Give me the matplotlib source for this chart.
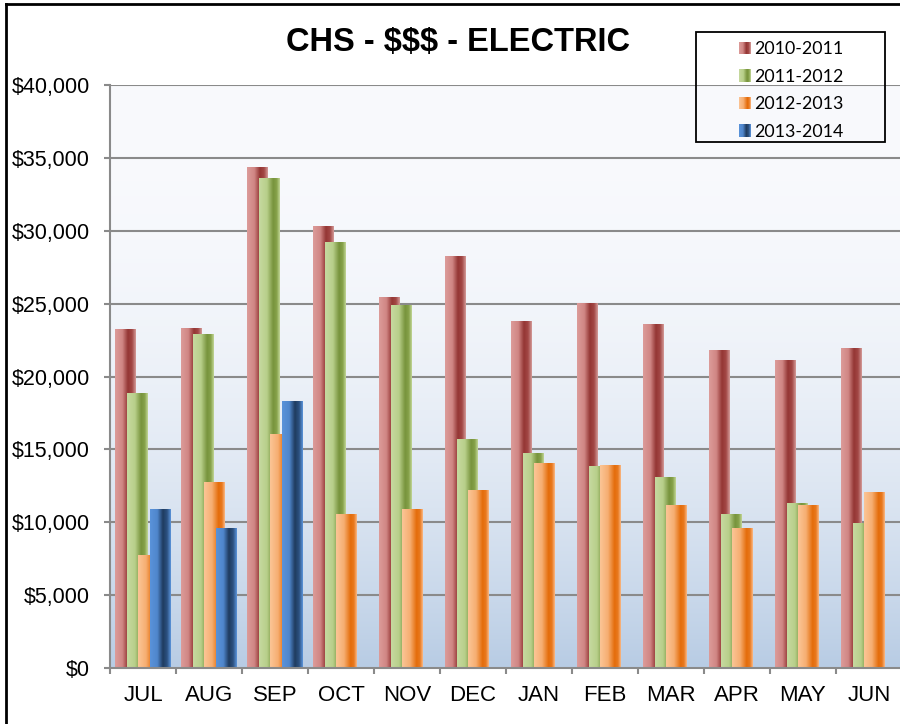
import numpy as np
import matplotlib
matplotlib.use("Agg")
import matplotlib.pyplot as plt
from matplotlib.colors import to_rgb
from matplotlib.patches import Rectangle
from matplotlib.lines import Line2D
from matplotlib.legend_handler import HandlerBase

# ---------------- data ----------------
months = ["JUL", "AUG", "SEP", "OCT", "NOV", "DEC", "JAN", "FEB", "MAR", "APR", "MAY", "JUN"]
series_names = ["2010-2011", "2011-2012", "2012-2013", "2013-2014"]
fy_2010_2011 = [23200, 23300, 34350, 30300, 25450, 28200, 23800, 25000, 23600, 21750, 21100, 21900]
fy_2011_2012 = [18850, 22900, 33600, 29200, 24900, 15700, 14750, 13850, 13100, 10550, 11300, 9900]
fy_2012_2013 = [7750, 12750, 16050, 10550, 10850, 12200, 14000, 13900, 11150, 9550, 11150, 12050]
fy_2013_2014 = [10850, 9600, 18300, None, None, None, None, None, None, None, None, None]
yticks = [0, 5000, 10000, 15000, 20000, 25000, 30000, 35000, 40000]
ytick_labels = ["$0", "$5,000", "$10,000", "$15,000", "$20,000", "$25,000", "$30,000", "$35,000", "$40,000"]
title = "CHS - $$$ - ELECTRIC"

all_series = [fy_2010_2011, fy_2011_2012, fy_2012_2013, fy_2013_2014]

# gradient stops across each bar (left -> right)
grad_stops = [
    [(0.0, "#dc9c9a"), (0.35, "#d08684"), (0.62, "#943634"), (0.82, "#a34846"), (1.0, "#d39a98")],
    [(0.0, "#c6d9a0"), (0.38, "#b8cf8a"), (0.68, "#77933c"), (0.85, "#86a24a"), (1.0, "#c0d596")],
    [(0.0, "#fbc596"), (0.38, "#f6ae72"), (0.7, "#e46c0a"), (0.86, "#e8791e"), (1.0, "#f9b682")],
    [(0.0, "#5a93da"), (0.35, "#4f86cc"), (0.62, "#1f3b5f"), (0.82, "#2c5180"), (1.0, "#5a93da")],
]


def make_grad(stops, n=64):
    pos = np.array([s[0] for s in stops])
    cols = np.array([to_rgb(s[1]) for s in stops])
    xs = np.linspace(0, 1, n)
    arr = np.stack([np.interp(xs, pos, cols[:, c]) for c in range(3)], axis=-1)
    return arr[np.newaxis, :, :]


grads = [make_grad(s) for s in grad_stops]

W, H = 900, 724
fig = plt.figure(figsize=(W / 100, H / 100), dpi=100)
fig.patch.set_facecolor("white")

left_px, right_px, top_px, bottom_px = 110, 902, 85, 668
ax = fig.add_axes([left_px / W, 1 - bottom_px / H, (right_px - left_px) / W, (bottom_px - top_px) / H])
ax.set_facecolor("none")

n_cat = len(months)
x = np.arange(n_cat)
bar_w = 0.318
offsets = [(i - 1.5) * 0.174 for i in range(4)]

# background gradient (plot area)
t = np.linspace(0, 1, 256)
top_c = np.array(to_rgb("#f9fafd"))
bot_c = np.array(to_rgb("#b8cce4"))
prof = t ** 2.3
bg = top_c[None, :] * (1 - prof[:, None]) + bot_c[None, :] * prof[:, None]
ax.imshow(bg[:, np.newaxis, :], extent=[-0.5, n_cat - 0.5, 0, 40000], aspect="auto",
          zorder=0, origin="upper", interpolation="bilinear")

# gridlines
for yv in yticks[1:]:
    ax.axhline(yv, color="#8a8a8a", lw=1.5, zorder=1)

# bars
for si, vals in enumerate(all_series):
    xs_s = []
    hs_s = []
    for ci, v in enumerate(vals):
        if v is None:
            continue
        xs_s.append(x[ci] + offsets[si])
        hs_s.append(v)
    bars = ax.bar(xs_s, hs_s, width=bar_w, color="none", edgecolor="none", zorder=2 + si)
    for b in bars:
        x0 = b.get_x()
        ax.imshow(grads[si], extent=[x0, x0 + b.get_width(), 0, b.get_height()],
                  aspect="auto", zorder=2 + si, interpolation="bilinear")

ax.set_xlim(-0.5, n_cat - 0.5)
ax.set_ylim(0, 40000)

# axes styling
for s in ["top", "right"]:
    ax.spines[s].set_visible(False)
for s in ["left", "bottom"]:
    ax.spines[s].set_color("#8a8a8a")
    ax.spines[s].set_linewidth(1.5)
    ax.spines[s].set_zorder(10)

ax.set_yticks(yticks)
ax.set_yticklabels(ytick_labels, fontsize=15.5, family="Liberation Sans")
ax.tick_params(axis="y", direction="out", length=4.5, width=1.5, color="#8a8a8a", pad=10)

ax.set_xticks(np.arange(n_cat + 1) - 0.5)
ax.set_xticklabels([])
ax.set_xticks(x, minor=True)
ax.set_xticklabels(months, minor=True, fontsize=16, family="Liberation Sans")
ax.tick_params(axis="x", which="major", direction="out", length=4.5, width=1.5, color="#8a8a8a")
ax.tick_params(axis="x", which="minor", length=0, pad=12)

# title
fig.text(458 / W, 1 - 43 / H, title, ha="center", va="center", fontsize=23.5,
         fontweight="bold", family="Liberation Sans")


# legend with gradient swatches
class GradHandler(HandlerBase):
    def __init__(self, grad):
        super().__init__()
        self.grad = grad

    def create_artists(self, legend, orig_handle, xdescent, ydescent, width, height, fontsize, trans):
        n = self.grad.shape[1]
        arts = []
        sw = height * 1.0
        x0 = -xdescent + width - sw
        y0 = -ydescent + (height - sw) / 2
        for k in range(n):
            r = Rectangle((x0 + sw * k / n, y0), sw / n * 1.05, sw,
                          facecolor=self.grad[0, k], edgecolor="none", transform=trans)
            arts.append(r)
        return arts


handles = [Rectangle((0, 0), 1, 1) for _ in series_names]
hmap = {h: GradHandler(g) for h, g in zip(handles, grads)}
leg = fig.legend(handles, series_names, handler_map=hmap, loc="upper left",
                 bbox_to_anchor=(719 / W, 1 - 27 / H), frameon=False,
                 prop={"family": "Lato", "size": 12.8}, handlelength=1.0, handletextpad=0.2,
                 labelspacing=0.65, borderpad=0.3)

# legend frame
fig.patches.append(Rectangle((696 / W, 1 - 142 / H), (885 - 696) / W, (142 - 32) / H,
                             transform=fig.transFigure, facecolor="none", edgecolor="black",
                             lw=1.3, zorder=20))

# outer border (left and top)
fig.lines.append(Line2D([6 / W, 6 / W], [0, 1 - 4 / H], transform=fig.transFigure, color="black", lw=2))
fig.lines.append(Line2D([6 / W, 1], [1 - 4 / H, 1 - 4 / H], transform=fig.transFigure, color="black", lw=2))

fig.savefig("out.png", dpi=100)
